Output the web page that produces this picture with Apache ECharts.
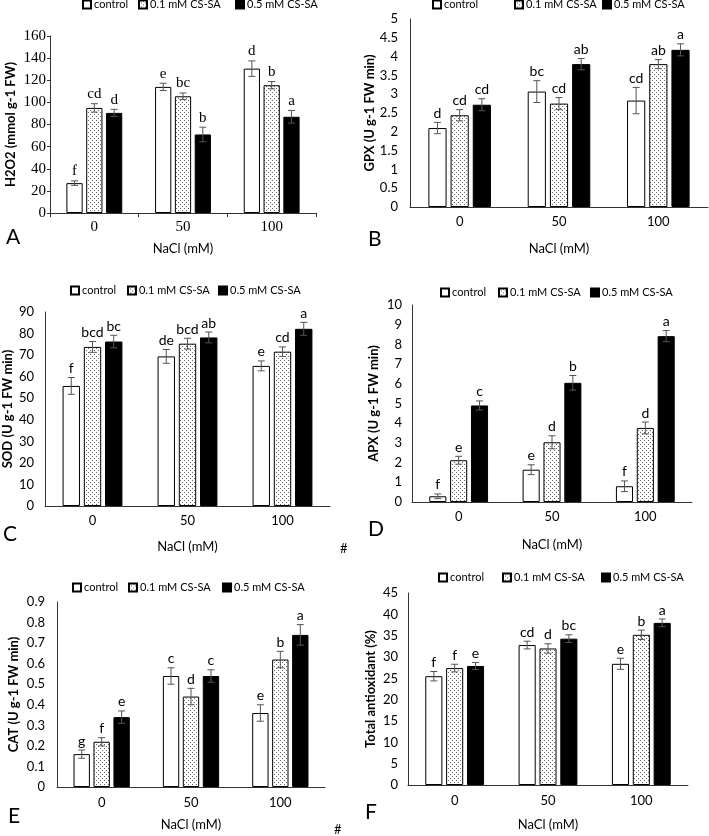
<!DOCTYPE html>
<html>
<head>
<meta charset="utf-8">
<script src="https://cdn.jsdelivr.net/npm/echarts@6/dist/echarts.min.js"></script>
<style>
html, body { margin: 0; padding: 0; background: #fff; }
#main { width: 709px; height: 836px; }
</style>
</head>
<body>
<div id="main"></div>
<script>
// categories and treatments
var categories = ['0', '50', '100'];
var treatments = ['control', '0.1 mM CS-SA', '0.5 mM CS-SA'];

// values: one row per treatment, one column per NaCl level
var h2o2Mean = [[27, 114, 130.5], [95, 105.5, 115.5], [90.5, 71, 87]];
var h2o2Err = [[2, 3.3, 7], [3.8, 3, 3.3], [3.2, 6.6, 5.7]];
var h2o2Letters = [['f', 'e', 'd'], ['cd', 'bc', 'b'], ['d', 'b', 'a']];

var gpxMean = [[2.1, 3.07, 2.83], [2.44, 2.75, 3.8], [2.72, 3.8, 4.18]];
var gpxErr = [[0.15, 0.29, 0.35], [0.15, 0.16, 0.12], [0.16, 0.15, 0.16]];
var gpxLetters = [['d', 'bc', 'cd'], ['cd', 'cd', 'ab'], ['cd', 'ab', 'a']];

var sodMean = [[55.7, 69.4, 65], [73.8, 75.3, 71.6], [76.3, 78.2, 82.2]];
var sodErr = [[3.9, 3.2, 2.3], [2.5, 2.5, 2.2], [2.9, 2.5, 3]];
var sodLetters = [['f', 'de', 'e'], ['bcd', 'bcd', 'cd'], ['bc', 'ab', 'a']];

var apxMean = [[0.29, 1.64, 0.8], [2.12, 3.03, 3.76], [4.9, 6.05, 8.42]];
var apxErr = [[0.12, 0.25, 0.27], [0.2, 0.33, 0.3], [0.23, 0.37, 0.28]];
var apxLetters = [['f', 'e', 'f'], ['e', 'd', 'd'], ['c', 'b', 'a']];

var catMean = [[0.16, 0.54, 0.36], [0.22, 0.44, 0.62], [0.34, 0.54, 0.74]];
var catErr = [[0.02, 0.04, 0.04], [0.02, 0.04, 0.04], [0.03, 0.03, 0.05]];
var catLetters = [['g', 'c', 'e'], ['f', 'd', 'b'], ['e', 'c', 'a']];

var taMean = [[25.5, 32.8, 28.4], [27.4, 32, 35.2], [27.9, 34.3, 38]];
var taErr = [[1.1, 0.9, 1.3], [0.9, 1.1, 1.1], [0.8, 0.9, 0.9]];
var taLetters = [['f', 'cd', 'e'], ['f', 'd', 'b'], ['e', 'bc', 'a']];

var CAT_GAP = 0.37;
var BAR_GAP = 0.22;

// dotted fill for 0.1 mM
var pat = document.createElement('canvas');
pat.width = 4; pat.height = 4;
var pctx = pat.getContext('2d');
pctx.fillStyle = '#fff';
pctx.fillRect(0, 0, 4, 4);
pctx.fillStyle = '#666';
pctx.fillRect(0, 0, 1, 1);
pctx.fillRect(2, 2, 1, 1);

var barStyles = [
	{ color: '#fff', borderColor: '#000', borderWidth: 1 },
	{ color: { image: pat, repeat: 'repeat' }, borderColor: '#000', borderWidth: 1 },
	{ color: '#000', borderColor: '#000', borderWidth: 1 }
];

var panels = [
	{ tag: 'A', mean: h2o2Mean, err: h2o2Err, letters: h2o2Letters, yName: 'H2O2 (mmol g-1 FW)', max: 160, interval: 20,
	  grid: { left: 50, top: 36, width: 266, height: 177 }, serif: true, nameGap: 33, xNameGap: 29, xMargin: 7, labelMargin: 4,
	  legendTop: -1, legendLeft: [82, 138, 235], tagPos: [6, 227] },
	{ tag: 'B', mean: gpxMean, err: gpxErr, letters: gpxLetters, yName: 'GPX (U g-1 FW min)', max: 5, interval: 0.5,
	  grid: { left: 410, top: 19, width: 298, height: 188 }, serif: false, nameGap: 34, xNameGap: 35, xMargin: 8, labelMargin: 12,
	  legendTop: -1, legendLeft: [432, 514, 602], tagPos: [368, 229] },
	{ tag: 'C', mean: sodMean, err: sodErr, letters: sodLetters, yName: 'SOD (U g-1 FW min)', max: 90, interval: 10,
	  grid: { left: 44, top: 312, width: 286, height: 194 }, serif: false, nameGap: 31, xNameGap: 34, xMargin: 8, labelMargin: 11,
	  legendTop: 285, legendLeft: [70, 127, 218], tagPos: [3, 524] },
	{ tag: 'D', mean: apxMean, err: apxErr, letters: apxLetters, yName: 'APX (U g-1 FW min)', max: 10, interval: 1,
	  grid: { left: 412, top: 305, width: 280, height: 197 }, serif: false, nameGap: 32, xNameGap: 36, xMargin: 8, labelMargin: 10,
	  legendTop: 287, legendLeft: [440, 498, 590], tagPos: [368, 519] },
	{ tag: 'E', mean: catMean, err: catErr, letters: catLetters, yName: 'CAT (U g-1 FW min)', max: 0.9, interval: 0.1,
	  grid: { left: 57, top: 602, width: 268, height: 185 }, serif: false, nameGap: 37, xNameGap: 31, xMargin: 9, labelMargin: 12,
	  legendTop: 582, legendLeft: [72, 128, 222], tagPos: [8, 806] },
	{ tag: 'F', mean: taMean, err: taErr, letters: taLetters, yName: 'Total antioxidant (%)', max: 45, interval: 5,
	  grid: { left: 408, top: 593, width: 280, height: 192 }, serif: false, nameGap: 31, xNameGap: 33, xMargin: 9, labelMargin: 10,
	  legendTop: 572, legendLeft: [438, 502, 601], tagPos: [365, 802] }
];

function errRender(letters, ti, font) {
	return function (params, api) {
		var c = api.value(0), m = api.value(1), e = api.value(2);
		var band = api.size([1, 0])[0];
		var w = band * (1 - CAT_GAP) / (3 + 2 * BAR_GAP);
		var total = 3 * w + 2 * BAR_GAP * w;
		var x = api.coord([c, 0])[0] - total / 2 + w / 2 + ti * w * (1 + BAR_GAP);
		var yHi = api.coord([c, m + e])[1];
		var yLo = api.coord([c, m - e])[1];
		var st = { stroke: '#555', lineWidth: 1 };
		return {
			type: 'group',
			children: [
				{ type: 'line', shape: { x1: x, y1: yHi, x2: x, y2: yLo }, style: st },
				{ type: 'line', shape: { x1: x - 3.5, y1: yHi, x2: x + 3.5, y2: yHi }, style: st },
				{ type: 'line', shape: { x1: x - 3.5, y1: yLo, x2: x + 3.5, y2: yLo }, style: st },
				{ type: 'text', x: x, y: yHi - 2, style: { text: letters[ti][params.dataIndex], textAlign: 'center', textVerticalAlign: 'bottom', font: font, fill: '#000' } }
			]
		};
	};
}

var grids = [], xAxes = [], yAxes = [], series = [], legends = [], graphics = [];

panels.forEach(function (p, pi) {
	var tickFont = p.serif ? 'Liberation Serif' : 'Lato';
	var tickSize = p.serif ? 15 : 13;
	var letterFont = p.serif ? '15px "Liberation Serif"' : '14px Lato';
	grids.push(p.grid);
	xAxes.push({
		type: 'category', gridIndex: pi, data: categories,
		name: 'NaCl (mM)', nameLocation: 'middle', nameGap: p.xNameGap, nameMoveOverlap: false,
		nameTextStyle: { fontFamily: 'Lato', fontSize: 13, color: '#000' },
		axisLine: { lineStyle: { color: '#333', width: 1 } },
		axisTick: { show: p.serif, length: 4, lineStyle: { color: '#333' } },
		axisLabel: { margin: p.xMargin, fontFamily: tickFont, fontSize: tickSize, color: '#000' }
	});
	yAxes.push({
		type: 'value', gridIndex: pi, min: 0, max: p.max, interval: p.interval,
		name: p.yName, nameLocation: 'middle', nameGap: p.nameGap, nameMoveOverlap: false,
		nameTextStyle: { fontFamily: 'Lato', fontSize: 13, fontWeight: 'bold', color: '#000' },
		axisLine: { show: true, lineStyle: { color: '#333', width: 1 } },
		axisTick: { show: p.serif, length: 3, lineStyle: { color: '#333' } },
		splitLine: { show: false },
		axisLabel: { margin: p.labelMargin, fontFamily: tickFont, fontSize: tickSize, color: '#000' }
	});
	treatments.forEach(function (t, ti) {
		series.push({
			type: 'bar', name: t, xAxisIndex: pi, yAxisIndex: pi,
			data: p.mean[ti], itemStyle: barStyles[ti],
			barCategoryGap: (CAT_GAP * 100) + '%', barGap: (BAR_GAP * 100) + '%',
			emphasis: { disabled: true }, animation: false
		});
	});
	treatments.forEach(function (t, ti) {
		var d = p.mean[ti].map(function (v, ci) { return [ci, v, p.err[ti][ci]]; });
		series.push({
			type: 'custom', name: 'err-' + p.tag + ti, xAxisIndex: pi, yAxisIndex: pi,
			data: d, renderItem: errRender(p.letters, ti, letterFont),
			z: 5, clip: false, silent: true, animation: false
		});
		legends.push({
			data: [{ name: t, icon: 'rect' }], left: p.legendLeft[ti], top: p.legendTop, padding: 0,
			itemWidth: 8, itemHeight: 8, selectedMode: false,
			textStyle: { fontFamily: 'Lato', fontSize: 11, color: '#000', padding: [0, 0, 0, -2] }
		});
	});
	graphics.push({
		type: 'text', left: p.tagPos[0], top: p.tagPos[1],
		style: { text: p.tag, font: '21px Lato', fill: '#000' }
	});
});

graphics.push({ type: 'text', left: 340, top: 542, style: { text: '#', font: '13px Lato', fill: '#000' } });
graphics.push({ type: 'text', left: 334, top: 823, style: { text: '#', font: '13px Lato', fill: '#000' } });

var chart = echarts.init(document.getElementById('main'));
chart.setOption({
	animation: false,
	backgroundColor: '#fff',
	grid: grids,
	xAxis: xAxes,
	yAxis: yAxes,
	legend: legends,
	series: series,
	graphic: graphics
});
</script>
</body>
</html>
